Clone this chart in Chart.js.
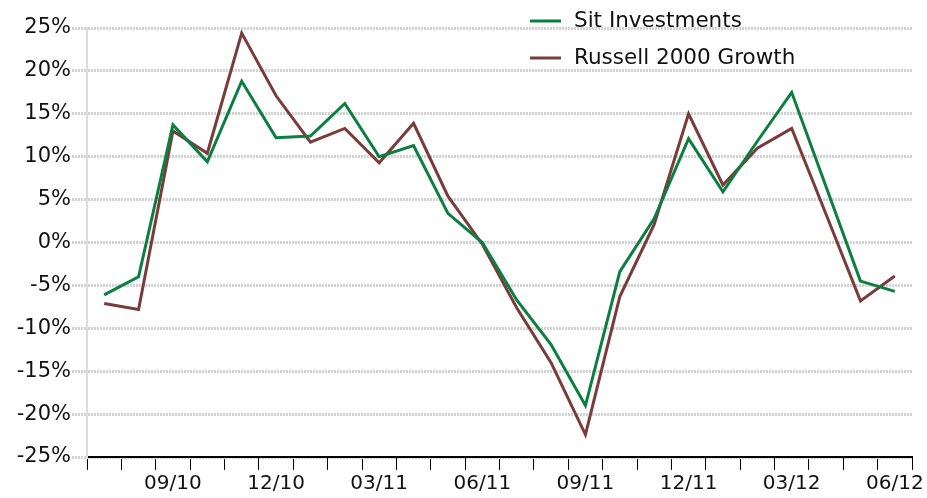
<!DOCTYPE html>
<html>
<head>
<meta charset="utf-8">
<script src="https://cdn.jsdelivr.net/npm/chart.js@4"></script>
<style>
  html, body { margin: 0; padding: 0; background: #fff; }
  #wrap { width: 927px; height: 498px; }
</style>
</head>
<body>
<div id="wrap"><canvas id="perfChart" width="927" height="498"></canvas></div>
<script>
// monthly periods, Jul 2010 - Jun 2012
const months = ["07/10", "08/10", "09/10", "10/10", "11/10", "12/10",
                "01/11", "02/11", "03/11", "04/11", "05/11", "06/11",
                "07/11", "08/11", "09/11", "10/11", "11/11", "12/11",
                "01/12", "02/12", "03/12", "04/12", "05/12", "06/12"];

const sitInvestments = [-6.1, -4.0, 13.7, 9.4, 18.8, 12.2, 12.4, 16.2, 10.0, 11.3, 3.4, 0.0,
                        -6.7, -11.9, -19.0, -3.4, 2.8, 12.1, 5.9, 11.8, 17.5, 6.5, -4.5, -5.7];

const russell2000Growth = [-7.1, -7.8, 13.0, 10.4, 24.4, 17.1, 11.7, 13.3, 9.3, 13.9, 5.4, -0.2,
                           -7.6, -14.0, -22.4, -6.3, 2.1, 15.0, 6.7, 11.0, 13.3, 3.3, -6.8, -3.9];

const yMin = -25, yMax = 25, yStep = 5;

const seriesColors = { sit: '#0a7f3f', russell: '#7a3b3b' };
const gridGray = '#d2d2d2';
const fontFamily = '"DejaVu Sans", Verdana, sans-serif';

// legend drawn over the plot, top right
const overlayLegend = {
    id: 'overlayLegend',
    afterDraw(chart) {
        const ctx = chart.ctx;
        ctx.save();
        ctx.font = '21.5px ' + fontFamily;
        ctx.textBaseline = 'middle';
        chart.data.datasets.forEach(function(ds, i) {
            const y = 21 + i * 37;
            ctx.strokeStyle = ds.borderColor;
            ctx.lineWidth = 3;
            ctx.beginPath();
            ctx.moveTo(530, y);
            ctx.lineTo(561, y);
            ctx.stroke();
            ctx.fillStyle = '#111';
            ctx.fillText(ds.label, 574, y);
        });
        ctx.restore();
    }
};

const canvas = document.getElementById('perfChart');

new Chart(canvas, {
    type: 'line',
    data: {
        labels: months,
        datasets: [{
            label: 'Sit Investments',
            data: sitInvestments,
            borderColor: seriesColors.sit,
            borderWidth: 3,
            pointRadius: 0,
            tension: 0,
            fill: false
        }, {
            label: 'Russell 2000 Growth',
            data: russell2000Growth,
            borderColor: seriesColors.russell,
            borderWidth: 3,
            pointRadius: 0,
            tension: 0,
            fill: false
        }]
    },
    options: {
        responsive: false,
        animation: false,
        layout: {
            padding: { left: 0, right: 15, top: 28, bottom: 0 }
        },
        plugins: {
            legend: { display: false },
            tooltip: { enabled: false }
        },
        scales: {
            x: {
                offset: true,
                grid: {
                    offset: true,
                    drawOnChartArea: false,
                    drawTicks: true,
                    tickLength: 13,
                    tickColor: '#000',
                    tickWidth: 1
                },
                border: { color: '#000', width: 2 },
                ticks: {
                    autoSkip: false,
                    maxRotation: 0,
                    padding: 2,
                    color: '#111',
                    font: { family: fontFamily, size: 20 },
                    callback: function(val, idx) {
                        return idx % 3 === 2 ? this.getLabelForValue(val) : '';
                    }
                },
                afterFit: function(scale) { scale.height = 41; }
            },
            y: {
                min: yMin,
                max: yMax,
                grid: {
                    color: gridGray,
                    lineWidth: 3,
                    drawTicks: true,
                    tickLength: 15,
                    tickColor: gridGray,
                    tickWidth: 3,
                    tickBorderDash: [2, 1]
                },
                border: { color: '#dcdcdc', width: 2, dash: [2, 1] },
                ticks: {
                    stepSize: yStep,
                    padding: 1,
                    color: '#111',
                    font: { family: fontFamily, size: 21 },
                    callback: function(v) { return v + '%'; }
                },
                afterFit: function(scale) { scale.width = 87; }
            }
        }
    },
    plugins: [overlayLegend]
});
</script>
</body>
</html>
